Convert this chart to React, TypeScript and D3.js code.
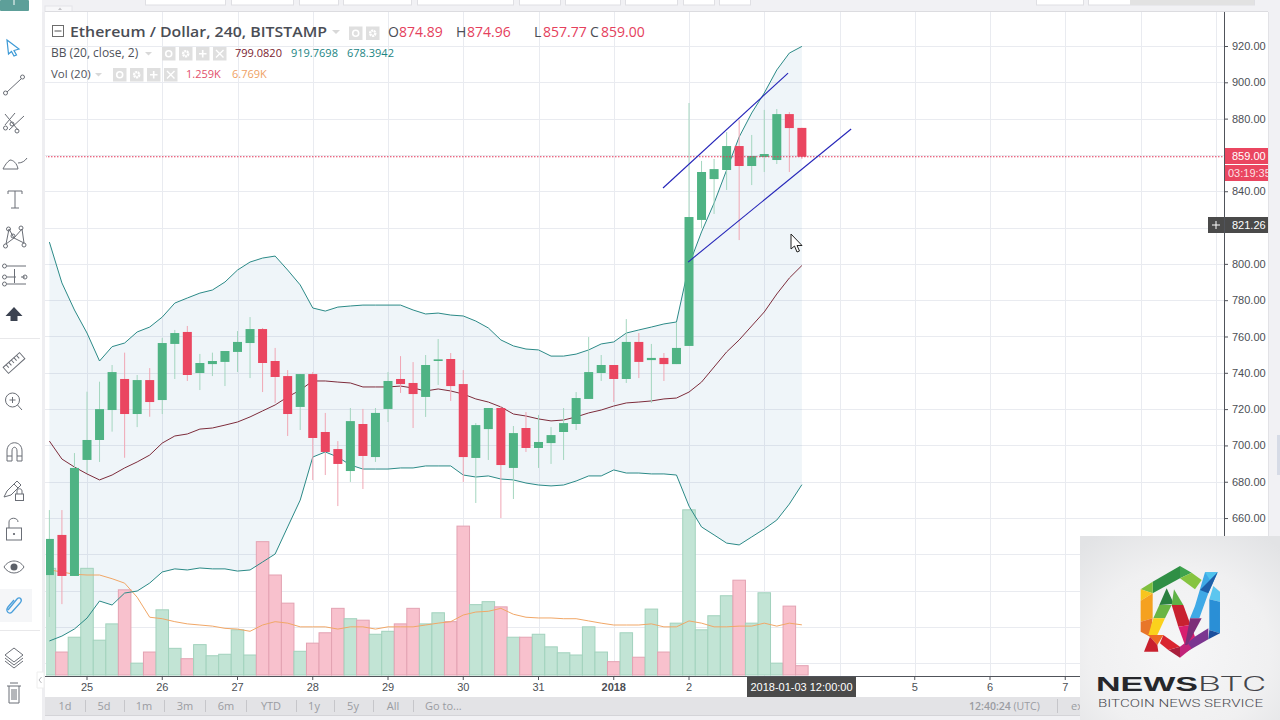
import React, { useEffect, useRef } from "react";
import { select, scaleLinear, scaleUtc, axisRight, axisBottom, area, line, format, utcHour, utcDay } from "d3";

// 4h bars, first one is 24 Dec 12:00
const firstBar = Date.UTC(2017, 11, 24, 12);
const opens = [628.6, 650.7, 628.1, 692.0, 703.0, 719.5, 736.6, 717.3, 736.0, 725.0, 755.9, 762.5, 739.9, 744.8, 746.0, 751.5, 756.4, 764.1, 746.5, 738.2, 721.2, 739.3, 707.4, 698.0, 685.9, 711.8, 693.6, 720.1, 736.6, 734.4, 726.7, 746.5, 747.6, 733.8, 693.1, 709.0, 720.6, 687.6, 709.6, 698.6, 701.3, 707.4, 711.8, 725.6, 739.9, 744.3, 736.6, 757.0, 747.0, 748.2, 744.8, 754.8, 824.2, 846.7, 851.7, 864.9, 853.9, 858.9, 857.2, 882.5, 874.89];
const highs = [664.4, 664.4, 695.8, 729.6, 735.1, 744.3, 751.1, 738.8, 742.6, 759.2, 763.6, 765.8, 750.4, 751.1, 752.0, 763.0, 770.7, 764.7, 753.7, 741.5, 739.3, 740.4, 717.9, 702.4, 720.6, 720.1, 720.6, 740.4, 749.2, 745.9, 749.8, 758.6, 750.9, 741.5, 712.3, 720.6, 721.7, 710.7, 718.4, 716.8, 710.1, 720.6, 729.4, 759.7, 749.8, 744.3, 769.6, 761.9, 755.9, 750.9, 768.0, 888.6, 856.7, 857.8, 872.6, 879.2, 871.0, 884.8, 885.3, 883.6, 874.96];
const lows = [605.5, 612.6, 628.1, 684.8, 690.9, 707.6, 693.2, 710.1, 715.8, 717.3, 736.6, 735.5, 730.5, 738.2, 732.7, 740.4, 737.1, 729.4, 723.4, 705.2, 708.5, 680.9, 683.7, 666.6, 679.9, 676.0, 690.9, 712.9, 728.9, 709.6, 715.7, 733.3, 724.5, 679.9, 668.3, 692.0, 660.0, 670.5, 696.4, 687.6, 689.8, 692.0, 708.5, 725.6, 735.5, 723.9, 734.4, 737.1, 723.4, 735.5, 744.8, 754.8, 819.8, 827.5, 840.7, 813.1, 843.4, 850.6, 855.0, 850.6, 857.77];
const closes = [648.5, 628.1, 687.6, 703.0, 720.0, 740.4, 717.3, 736.0, 723.9, 756.4, 761.9, 738.8, 745.4, 746.5, 752.0, 757.0, 764.1, 745.4, 737.7, 717.3, 739.3, 704.1, 696.4, 689.8, 713.4, 694.2, 717.9, 735.5, 733.8, 728.3, 744.3, 747.4, 732.7, 693.6, 711.2, 720.6, 689.2, 706.8, 698.6, 701.9, 705.7, 712.3, 726.1, 740.4, 744.3, 736.6, 757.0, 746.0, 748.2, 744.8, 753.7, 825.8, 850.6, 852.2, 864.9, 853.9, 859.4, 860.5, 882.5, 874.8, 859.0];

const bbUpper = [812.0, 789.5, 774.6, 761.9, 746.5, 754.4, 756.4, 762.5, 765.2, 770.7, 778.4, 781.2, 783.9, 785.6, 790.0, 796.6, 801.0, 803.2, 804.3, 796.6, 788.4, 775.7, 774.0, 776.2, 776.8, 777.3, 777.3, 777.3, 777.3, 774.6, 772.4, 772.9, 771.8, 771.3, 768.5, 764.7, 758.1, 754.8, 753.1, 752.6, 749.2, 749.2, 750.3, 752.6, 755.9, 757.0, 761.9, 763.6, 765.2, 766.9, 768.0, 799.4, 817.6, 833.5, 851.7, 869.9, 883.1, 894.1, 906.8, 916.1, 919.77];
const bbBasis = [702.4, 692.5, 688.1, 684.3, 681.0, 683.7, 687.6, 690.9, 694.7, 701.3, 705.2, 706.3, 709.0, 709.6, 711.2, 712.9, 715.7, 719.0, 722.3, 726.7, 730.5, 735.5, 735.5, 734.9, 734.4, 732.2, 732.2, 732.2, 732.7, 731.6, 730.0, 731.1, 730.0, 728.3, 725.6, 723.9, 721.2, 717.3, 716.2, 714.6, 713.5, 714.0, 715.7, 717.9, 719.5, 721.7, 723.4, 723.9, 724.5, 725.6, 726.1, 729.4, 734.9, 743.2, 751.5, 758.1, 765.8, 773.5, 783.4, 792.2, 799.08];
const bbLower = [592.3, 595.0, 598.9, 604.9, 614.3, 612.1, 618.7, 619.8, 624.2, 630.3, 632.0, 631.4, 632.5, 632.0, 632.0, 630.8, 631.4, 635.8, 640.2, 655.1, 669.9, 693.6, 696.4, 693.6, 689.2, 687.0, 687.0, 687.0, 687.6, 687.6, 688.7, 688.7, 688.7, 683.7, 682.6, 683.2, 681.5, 681.0, 679.3, 678.2, 677.7, 678.2, 680.4, 683.2, 683.2, 686.5, 684.8, 684.8, 684.3, 684.3, 683.7, 666.6, 655.1, 650.7, 646.2, 645.2, 649.6, 654.0, 658.9, 667.7, 678.39];

// volume in thousands
const volumes = [14.4, 3.1, 5.1, 14.4, 4.7, 6.9, 11.5, 1.6, 3.1, 8.8, 3.6, 2.2, 4.1, 2.6, 2.8, 6.1, 2.7, 18.0, 13.5, 9.7, 3.2, 4.3, 5.7, 9.0, 7.6, 7.4, 5.5, 5.9, 6.9, 9.0, 6.9, 8.4, 7.2, 20.1, 9.5, 9.9, 9.2, 5.1, 5.1, 5.5, 3.8, 3.0, 2.7, 6.5, 3.1, 1.8, 5.7, 2.4, 8.9, 3.1, 7.0, 22.3, 6.1, 8.0, 10.7, 12.8, 7.0, 11.1, 1.6, 9.3, 1.259];
const volumeMa = [14.2, 13.9, 13.6, 13.5, 13.5, 13.0, 12.4, 10.5, 7.8, 7.6, 7.2, 6.9, 6.75, 6.6, 6.3, 6.2, 5.9, 6.75, 7.2, 7.0, 6.5, 6.5, 6.5, 6.2, 6.5, 6.5, 6.2, 6.5, 6.5, 6.5, 6.75, 7.0, 7.2, 8.1, 8.5, 8.6, 9.0, 8.2, 7.8, 7.7, 7.7, 7.6, 7.6, 7.3, 7.0, 6.75, 6.75, 6.75, 6.9, 6.5, 6.5, 7.3, 7.0, 6.5, 6.5, 6.6, 6.6, 7.0, 6.6, 7.0, 6.769];

const priceTicks = [920, 900, 880, 860, 840, 820, 800, 780, 760, 740, 720, 700, 680, 660, 640, 620, 600, 580];
// these sit under the price tags or the watermark
const hiddenPriceLabels = [860, 820, 640, 620, 600, 580];
const dayTicks = [
  Date.UTC(2017, 11, 25), Date.UTC(2017, 11, 26), Date.UTC(2017, 11, 27), Date.UTC(2017, 11, 28),
  Date.UTC(2017, 11, 29), Date.UTC(2017, 11, 30), Date.UTC(2017, 11, 31), Date.UTC(2018, 0, 1),
  Date.UTC(2018, 0, 2), Date.UTC(2018, 0, 3), Date.UTC(2018, 0, 4), Date.UTC(2018, 0, 5),
  Date.UTC(2018, 0, 6), Date.UTC(2018, 0, 7), Date.UTC(2018, 0, 8), Date.UTC(2018, 0, 9),
];
const hiddenDayLabels = [Date.UTC(2018, 0, 3), Date.UTC(2018, 0, 4), Date.UTC(2018, 0, 8), Date.UTC(2018, 0, 9)];

// the two hand drawn channel lines: [time, price]
const channelUpper: [number, number][] = [[Date.UTC(2018, 0, 1, 15, 43), 841.8], [Date.UTC(2018, 0, 3, 7, 36), 905.1]];
const channelLower: [number, number][] = [[Date.UTC(2018, 0, 1, 23, 43), 801.0], [Date.UTC(2018, 0, 4, 3, 43), 874.3]];

const ohlcLabels = ["O", "H", "L", "C"];
const ohlcValues = ["874.89", "874.96", "857.77", "859.00"];
const ohlcLabelXs = [388, 456, 534, 590];
const ohlcValueXs = [399, 467, 543, 601];

const rangeLabels = ["1d", "5d", "1m", "3m", "6m", "YTD", "1y", "5y", "All"];
const rangeXs = [65, 104, 144, 185, 226, 271, 314, 353, 393];
const topBoxes = [[145, 80], [231, 62], [299, 39], [343, 68], [417, 96], [519, 41], [565, 55], [625, 52], [683, 31], [719, 31], [1036, 47], [1088, 166]];

const UI_FONT = "'Open Sans', 'DejaVu Sans', sans-serif";
const AXIS_FONT = "'Liberation Sans', Arial, sans-serif";
const GREEN = "#4fb384";
const RED = "#ea4660";

const logoPieces: [string, string][] = [
  ["#2f8f45", "248,155 330,108 330,145 248,190"],
  ["#7fbf3f", "212,178 248,155 248,190"],
  ["#3fa34d", "330,108 365,128 330,145"],
  ["#86c440", "330,145 365,128 395,150 375,178"],
  ["#f7c51e", "212,178 248,190 212,212"],
  ["#f5a11f", "212,212 248,190 248,265 212,275"],
  ["#e8762a", "212,275 248,265 240,320 212,305"],
  ["#3fa9e6", "405,127 443,127 415,190 388,265 360,265 375,228"],
  ["#4fc3ee", "405,127 443,127 420,150"],
  ["#1e5fa8", "420,150 443,127 415,190 390,180"],
  ["#5cc6ef", "430,168 450,185 450,215 418,208"],
  ["#2a8fd6", "418,208 450,215 450,310 418,300"],
  ["#1c4f9c", "418,300 450,310 415,328"],
  ["#7b3590", "415,295 415,328 350,365 350,335"],
  ["#c2247a", "350,335 365,355 330,383 330,350"],
  ["#a91f3c", "330,350 330,383 295,360"],
  ["#d9252f", "280,315 330,350 295,360 270,340"],
  ["#2a7f3f", "290,175 312,222 268,225"],
  ["#5fb246", "312,178 340,225 305,225"],
  ["#6ab544", "268,225 305,225 285,265 250,265"],
  ["#fbd11c", "250,265 285,265 262,315 235,315"],
  ["#ee6a24", "235,315 280,315 262,345"],
  ["#c9202e", "240,320 262,345 265,365 222,365"],
  ["#c8212f", "305,225 340,225 362,285 325,290"],
  ["#d81f6f", "325,290 362,285 375,320 345,345"],
  ["#7d2f78", "360,265 395,265 352,345 345,345"],
];

function LegendButtons({ x, y, n }: { x: number; y: number; n: number }) {
  return (
    <g>
      {Array.from({ length: n }, (_, i) => (
        <g key={i} transform={`translate(${x + i * 17},${y})`}>
          <rect width={13.5} height={13.5} fill="#dfdfdf" />
          {i === 0 && <circle cx={6.7} cy={6.7} r={3} fill="none" stroke="#fff" strokeWidth={1.6} />}
          {i === 1 && <circle cx={6.7} cy={6.7} r={2.6} fill="none" stroke="#fff" strokeWidth={2.4} strokeDasharray="2 0.6" />}
          {i === 2 && <path d="M6.7 3V10.5M3 6.7H10.5" stroke="#fff" strokeWidth={1.6} />}
          {i === 3 && <path d="M3 3L10.5 10.5M10.5 3L3 10.5" stroke="#fff" strokeWidth={1.4} />}
        </g>
      ))}
    </g>
  );
}

function Toolbar() {
  const s = { fill: "none", stroke: "#6a6e76", strokeWidth: 1 };
  return (
    <g>
      <rect x={0} y={0} width={42} height={720} fill="#fff" />
      <rect x={0} y={0} width={29} height={11} rx={1} fill="#5d9f99" />
      <path d="M14 0V5" stroke="#fff" strokeWidth={1} />
      {/* cursor */}
      <path d="M7 40L19 49L14 50.500L16.500 55L14 56L11.500 51.500L8.500 54Z" fill="#fff" stroke="#3d9ad6" strokeWidth={1.2} />
      {/* trend line */}
      <g {...s}><path d="M7 92L21 79" /><circle cx={5.5} cy={93} r={2} /><circle cx={22.5} cy={77} r={2} /></g>
      {/* fork */}
      <g {...s}><path d="M5 125L15 113M9 130L24 116M5 114L18 130" /><circle cx={5.5} cy={128} r={2} /><circle cx={17} cy={131} r={2} /><circle cx={12} cy={124} r={2} /></g>
      {/* brush */}
      <path d="M3 169L18 169C17 163 13 160 10 160C7 162 5 165 3 169ZM18 163C22 163 25 161 27 158" {...s} />
      {/* text */}
      <path d="M8 191H22V194M8 191V194M15 191V208M11 208H19" {...s} />
      {/* pattern */}
      <g {...s}><path d="M6 244L9 229L14 238L22 229L24 243L14 238Z" /><circle cx={5.5} cy={246} r={2} /><circle cx={8.5} cy={229} r={2} /><circle cx={21} cy={228} r={2} /><circle cx={13} cy={236} r={2} /><circle cx={24} cy={245} r={2} /></g>
      {/* fib */}
      <g {...s}><path d="M7 266H26M7 277H16M7 284H26M21 277H25M14.5 269V283" /><circle cx={4.5} cy={266} r={2} /><circle cx={4.5} cy={277} r={2} /><circle cx={4.5} cy={284} r={2} /><circle cx={25} cy={277} r={2} /></g>
      {/* arrow */}
      <path d="M14 307L22.5 316H17.5V321H10.5V316H5.5Z" fill="#3b4250" />
      <path d="M0 338.5H40" stroke="#e8e8ea" />
      {/* ruler */}
      <g transform="translate(14,363) rotate(-42)"><rect x={-11} y={-4} width={22} height={8} {...s} /><path d="M-7 -4V0M-3.500 -4V0M0 -4V0M3.500 -4V0M7 -4V0" {...s} /></g>
      {/* zoom */}
      <g {...s}><circle cx={12.500} cy={400} r={7} /><path d="M17.500 405L22 410M9.500 400H15.500M12.500 397V403" /></g>
      {/* magnet */}
      <path d="M7 461V451C7 440 22 440 22 451V461H17V451C17 446 12 446 12 451V461ZM7 456H12M17 456H22" {...s} />
      {/* pencil + lock */}
      <path d="M4 497L7 491L17 481L21 485L11 495ZM14 484L18 488" {...s} />
      <g {...s}><rect x={15.500} y={494} width={8} height={6.500} /><path d="M17 494V491C17 488 22 488 22 491V494" /></g>
      {/* lock */}
      <g {...s}><rect x={6.500} y={528} width={15} height={12} /><path d="M9 528V522C9 517 18 517 18 522" /></g>
      <circle cx={14} cy={534} r={1.100} fill="#5c6068" />
      {/* eye */}
      <path d="M4 567C9 559 19 559 24 567C19 575 9 575 4 567Z" {...s} />
      <circle cx={14} cy={567} r={3.500} fill="#5c6068" />
      {/* link */}
      <rect x={0} y={589} width={32} height={33} fill="#f5f6f8" />
      <path d="M8 610L17 599C20 596 23 600 20 603L12 612C9 615 5 611 8 607L14 600" fill="none" stroke="#4a9fdb" strokeWidth={1.300} />
      <path d="M0 630.500H40" stroke="#e8e8ea" />
      {/* layers */}
      <g {...s}><path d="M14 648L23 655L14 662L5 655Z" /><path d="M5 658L14 665L23 658M5 661L14 668L23 661" /></g>
      {/* trash */}
      <g {...s}><path d="M7 686H21M9 686V703H19V686M10 683H18M12 689V700M14 689V700M16 689V700" /></g>
    </g>
  );
}

function App() {
  const chartRef = useRef<SVGGElement>(null);

  useEffect(() => {
    const g = select(chartRef.current);
    g.selectAll("*").remove();

    const x = scaleUtc().domain([Date.UTC(2017, 11, 25), Date.UTC(2018, 0, 7)]).range([87, 1065.25]);
    const y = scaleLinear().domain([920, 580]).range([46, 663.3]);
    const yVol = scaleLinear().domain([0, 27]).range([675, 475]);
    const barTime = (i: number) => utcHour.offset(new Date(firstBar), i * 4);
    const bars = opens.map((o, i) => ({
      t: barTime(i), o, h: highs[i], l: lows[i], c: closes[i], up: closes[i] >= o,
      v: volumes[i], vm: volumeMa[i], bu: bbUpper[i], bm: bbBasis[i], bl: bbLower[i],
    }));
    const step = x(utcHour.offset(new Date(firstBar), 4)) - x(new Date(firstBar));

    g.append("clipPath").attr("id", "plot").append("rect").attr("x", 46).attr("y", 12).attr("width", 1178).attr("height", 664);

    // grid
    const grid = g.append("g").attr("stroke", "#e9ebf0").attr("stroke-width", 1);
    grid.selectAll("line.h").data(priceTicks).join("line").attr("class", "h")
      .attr("x1", 45).attr("x2", 1224).attr("y1", (d) => Math.round(y(d)) + 0.5).attr("y2", (d) => Math.round(y(d)) + 0.5);
    grid.selectAll("line.v").data(dayTicks).join("line").attr("class", "v")
      .attr("y1", 12).attr("y2", 676).attr("x1", (d) => Math.round(x(d)) + 0.5).attr("x2", (d) => Math.round(x(d)) + 0.5);

    const plot = g.append("g").attr("clip-path", "url(#plot)");

    // bollinger band fill
    const band = area<any>().x((d) => x(d.t)).y0((d) => y(d.bl)).y1((d) => y(d.bu));
    plot.append("path").attr("d", band(bars)).attr("fill", "#4a90c0").attr("fill-opacity", 0.09);

    // volume
    plot.selectAll("rect.vol").data(bars).join("rect").attr("class", "vol")
      .attr("x", (d) => x(d.t) - step / 2)
      .attr("width", step)
      .attr("y", (d) => yVol(d.v))
      .attr("height", (d) => yVol(0) - yVol(d.v))
      .attr("fill", (d) => (d.up ? "#c2e4d5" : "#f8c1cd"))
      .attr("stroke", (d) => (d.up ? "#a2d2bd" : "#e3a2b2"))
      .attr("stroke-width", 1);
    plot.append("path")
      .attr("d", line<any>().x((d) => x(d.t)).y((d) => yVol(d.vm))(bars))
      .attr("fill", "none").attr("stroke", "#f1a767").attr("stroke-width", 1);

    // bollinger lines
    const bbLine = (key: string, color: string) =>
      plot.append("path")
        .attr("d", line<any>().x((d) => x(d.t)).y((d) => y(d[key]))(bars))
        .attr("fill", "none").attr("stroke", color).attr("stroke-width", 1);
    bbLine("bu", "#2b8a87");
    bbLine("bl", "#2b8a87");
    bbLine("bm", "#7d2c3b");

    // candles
    plot.selectAll("line.wick").data(bars).join("line").attr("class", "wick")
      .attr("x1", (d) => x(d.t)).attr("x2", (d) => x(d.t))
      .attr("y1", (d) => y(d.h)).attr("y2", (d) => y(d.l))
      .attr("stroke", (d) => (d.up ? "#a4d6bf" : "#f0a6b4")).attr("stroke-width", 1);
    plot.selectAll("rect.body").data(bars).join("rect").attr("class", "body")
      .attr("x", (d) => x(d.t) - 4.5)
      .attr("width", 9)
      .attr("y", (d) => y(Math.max(d.o, d.c)))
      .attr("height", (d) => Math.max(1.5, Math.abs(y(d.o) - y(d.c))))
      .attr("fill", (d) => (d.up ? GREEN : RED));

    // last price line
    plot.append("line").attr("x1", 45).attr("x2", 1224).attr("y1", y(859)).attr("y2", y(859))
      .attr("stroke", "#e5375a").attr("stroke-width", 1).attr("stroke-dasharray", "1.500 1.500");

    // channel
    [channelUpper, channelLower].forEach((c) => {
      plot.append("line")
        .attr("x1", x(c[0][0])).attr("y1", y(c[0][1])).attr("x2", x(c[1][0])).attr("y2", y(c[1][1]))
        .attr("stroke", "#2424b8").attr("stroke-width", 1.100);
    });

    // price axis
    const yAxis = axisRight(y).tickValues(priceTicks).tickSize(4).tickPadding(4)
      .tickFormat((d: any) => (hiddenPriceLabels.includes(d) ? "" : format(".2f")(d)));
    const ya = g.append("g").attr("transform", "translate(1224,0)").call(yAxis as any);
    ya.select(".domain").attr("d", "M0.5,12V676").attr("stroke", "#50535a");
    ya.selectAll(".tick line").attr("stroke", "#50535a");
    ya.selectAll("text").attr("font-family", AXIS_FONT).attr("font-size", 11).attr("fill", "#4c4f55");

    // time axis
    const xAxis = axisBottom(x).tickValues(dayTicks.map((d) => new Date(d))).tickSize(4).tickPadding(3)
      .tickFormat((d: any) => {
        if (hiddenDayLabels.includes(+d)) return "";
        return +utcDay.floor(d) === Date.UTC(2018, 0, 1) ? "2018" : String(d.getUTCDate());
      });
    const xa = g.append("g").attr("transform", "translate(-0.5,676)").call(xAxis as any);
    xa.select(".domain").attr("d", "M45,0.500H1224").attr("stroke", "#50535a");
    xa.selectAll(".tick line").attr("stroke", "#50535a");
    xa.selectAll("text").attr("font-family", AXIS_FONT).attr("font-size", 11).attr("fill", "#4c4f55")
      .attr("font-weight", (d: any) => (+d === Date.UTC(2018, 0, 1) ? "bold" : "normal"));
  }, []);

  return (
    <svg width={1280} height={720} style={{ position: "fixed", left: 0, top: 0, display: "block" }}>
      <style>{"body{margin:0;overflow:hidden}"}</style>
      <defs>
        <radialGradient id="wm" cx="50%" cy="62%" r="75%">
          <stop offset="0%" stopColor="#f6f6f7" />
          <stop offset="60%" stopColor="#f0f0f1" />
          <stop offset="100%" stopColor="#e2e3e5" />
        </radialGradient>
      </defs>
      <rect width={1280} height={720} fill="#f1f1f4" />
      {topBoxes.map(([bx, w]) => (
        <rect key={bx} x={bx + 0.5} y={-2} width={w} height={7} fill="#fff" stroke="#dfdfe3" />
      ))}
      <rect x={1130} y={0} width={124} height={5} fill="#e2e2e2" />
      <rect x={45} y={6} width={27} height={6} fill="#f7f7f9" stroke="#e4e4e8" />
      <path d="M58 10L60 7.500L62 10Z" fill="#c4c4c8" />
      <rect x={45} y={12} width={1223} height={685} fill="#fff" />
      <path d="M45 11.500H1268" stroke="#dcdce0" />
      <path d="M1268.500 12V697" stroke="#e2e2e6" />
      <rect x={1277} y={435} width={3} height={40} fill="#d6dbe6" />
      <g ref={chartRef} />

      {/* legend */}
      <rect x={52.500} y={25.500} width={11} height={11} fill="#fff" stroke="#6c6c6c" />
      <path d="M54.500 31H61.500" stroke="#555" />
      <text x={70} y={37} fontFamily={UI_FONT} fontSize={14.500} fontWeight={600} fill="#4a4d55" textLength={257} lengthAdjust="spacingAndGlyphs">Ethereum / Dollar, 240, BITSTAMP</text>
      <path d="M332 30H340L336 34Z" fill="#d8d8d8" />
      <LegendButtons x={349} y={26.500} n={2} />
      {ohlcLabels.map((k, i) => (
        <g key={k} fontFamily={UI_FONT} fontSize={14}>
          <text x={ohlcLabelXs[i]} y={37} fill="#4a4d55">{k}</text>
          <text x={ohlcValueXs[i]} y={37} fill="#e5405c">{ohlcValues[i]}</text>
        </g>
      ))}
      <text x={51} y={57} fontFamily={UI_FONT} fontSize={12} fill="#4f525a">BB (20, close, 2)</text>
      <path d="M145 52H152L148.500 55.500Z" fill="#d8d8d8" />
      <LegendButtons x={162} y={47} n={4} />
      <text x={235} y={57} fontFamily={UI_FONT} fontSize={11} fill="#7a1c2e">799.0820</text>
      <text x={291} y={57} fontFamily={UI_FONT} fontSize={11} fill="#1b8583">919.7698</text>
      <text x={347} y={57} fontFamily={UI_FONT} fontSize={11} fill="#1b8583">678.3942</text>
      <text x={51} y={78} fontFamily={UI_FONT} fontSize={11.500} fill="#4f525a">Vol (20)</text>
      <path d="M95 73H102L98.500 76.500Z" fill="#d8d8d8" />
      <LegendButtons x={113} y={68} n={4} />
      <text x={186} y={78} fontFamily={UI_FONT} fontSize={11} fill="#e2506c">1.259K</text>
      <text x={232} y={78} fontFamily={UI_FONT} fontSize={11} fill="#ef9f63">6.769K</text>

      {/* price labels */}
      <rect x={1225} y={148} width={43} height={16} fill="#ea4660" />
      <text x={1232} y={160} fontFamily={AXIS_FONT} fontSize={11} fill="#fff">859.00</text>
      <rect x={1225} y={165} width={43} height={16} fill="#ea4660" />
      <svg x={1225} y={165} width={43} height={16}>
        <text x={3} y={12} fontFamily={AXIS_FONT} fontSize={11} fill="#fff" fillOpacity={0.85}>03:19:35</text>
      </svg>
      <rect x={1208} y={217} width={16} height={16} fill="#4a4a4a" />
      <path d="M1212 225H1220M1216 221V229" stroke="#fff" />
      <rect x={1225} y={217} width={43} height={16} fill="#4a4a4a" />
      <text x={1232} y={229} fontFamily={AXIS_FONT} fontSize={11} fill="#fff">821.26</text>
      <rect x={747} y={677} width={109} height={20} fill="#4a4a4a" />
      <text x={801.500} y={691} textAnchor="middle" fontFamily={AXIS_FONT} fontSize={11} fill="#fff">2018-01-03 12:00:00</text>

      {/* mouse pointer */}
      <path d="M791 234V249L794.500 246L797 252L799.500 251L797 245.500H802Z" fill="#fff" stroke="#222" strokeWidth={1} />

      {/* range bar */}
      <rect x={45} y={697} width={1223} height={18} fill="#e3e3e6" />
      <path d="M45 715.500H1268" stroke="#d4d4d8" />
      {rangeLabels.map((r, i) => (
        <g key={r}>
          <text x={rangeXs[i]} y={710} textAnchor="middle" fontFamily={UI_FONT} fontSize={11} fill="#9a9ca2">{r}</text>
          <path d={`M${rangeXs[i] + (i === 5 ? 25 : 20)}.5 700V712`} stroke="#c6c6ca" />
        </g>
      ))}
      <text x={425} y={710} fontFamily={UI_FONT} fontSize={11} fill="#9a9ca2">Go to...</text>
      <text x={969} y={710} fontFamily={UI_FONT} fontSize={10.500} fontWeight={600} fill="#9a9ca2">12:40:24 <tspan fontWeight={400}>(UTC)</tspan></text>
      <path d="M1057.500 699V713" stroke="#c6c6ca" />
      <text x={1071} y={710} fontFamily={UI_FONT} fontSize={11} fill="#9a9ca2">ex</text>

      <Toolbar />
      <rect x={42} y={12} width={3} height={708} fill="#eeeef1" />
      <path d="M37 672H44V688H37Z" fill="#fff" stroke="#eee" />
      <path d="M41.500 677L39 680L41.500 683" fill="none" stroke="#b8b8bc" />

      {/* watermark */}
      <rect x={1080} y={536} width={200} height={184} fill="url(#wm)" />
      <g transform="translate(1070,530) scale(0.3333)">
        {logoPieces.map(([c, p], i) => (
          <polygon key={i} points={p} fill={c} />
        ))}
      </g>
      <text x={1096} y={691} fontFamily={AXIS_FONT} fontSize={21} fontWeight={700} fill="#26272b" textLength={102} lengthAdjust="spacingAndGlyphs">NEWS</text>
      <text x={1198} y={691} fontFamily="Roboto, sans-serif" fontSize={21} fontWeight={300} fill="#44454a" textLength={68} lengthAdjust="spacingAndGlyphs">BTC</text>
      <text x={1098} y={707} fontFamily="Roboto, sans-serif" fontSize={10} fontWeight={300} fill="#4a4b50" textLength={165} lengthAdjust="spacingAndGlyphs">BITCOIN NEWS SERVICE</text>
    </svg>
  );
}

export default App;
